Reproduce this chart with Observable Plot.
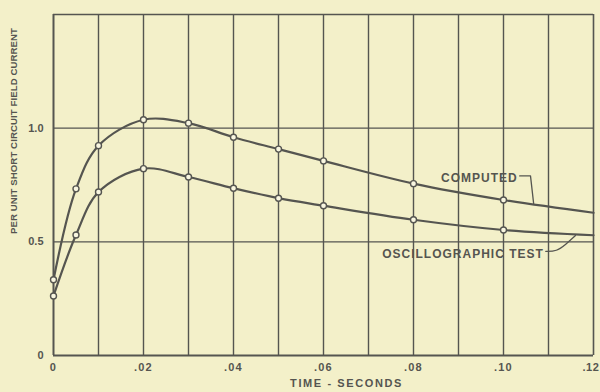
<!DOCTYPE html>
<html>
<head>
<meta charset="utf-8">
<script src="https://cdn.jsdelivr.net/npm/d3@7"></script>
<script src="https://cdn.jsdelivr.net/npm/@observablehq/plot@0.6"></script>
<style>
  html, body { margin: 0; padding: 0; background: #f3f0c9; }
  #chart { width: 600px; height: 392px; overflow: hidden; }
  svg { display: block; }
</style>
</head>
<body>
<div id="chart"></div>
<script>
// ---- data ----
const times        = [0, 0.005, 0.01, 0.02, 0.03, 0.04, 0.05, 0.06, 0.08, 0.10];
const computed     = [0.333, 0.733, 0.923, 1.037, 1.022, 0.960, 0.908, 0.856, 0.756, 0.684];
const oscillo      = [0.262, 0.530, 0.719, 0.822, 0.785, 0.736, 0.692, 0.659, 0.597, 0.552];
const endTime      = 0.12;
const computedEnd  = 0.628;
const oscilloEnd   = 0.529;
const xTicks       = [0, 0.02, 0.04, 0.06, 0.08, 0.10, 0.12];
const xTickLabels  = ["0", ".02", ".04", ".06", ".08", ".10", ".12"];
const xGrid        = [0.01, 0.02, 0.03, 0.04, 0.05, 0.06, 0.07, 0.08, 0.09, 0.10, 0.11];
const yTicks       = [0, 0.5, 1.0];
const yTickLabels  = ["0", "0.5", "1.0"];
const seriesNames  = ["COMPUTED", "OSCILLOGRAPHIC TEST"];
const xTitle       = "TIME - SECONDS";
const yTitle       = "PER UNIT SHORT CIRCUIT FIELD CURRENT";

// ---- build tables ----
const pts = (vals) => times.map((t, i) => ({t, v: vals[i]}));
const compPts = pts(computed);
const oscPts = pts(oscillo);
const compLine = [...compPts, {t: endTime, v: computedEnd}];
const oscLine = [...oscPts, {t: endTime, v: oscilloEnd}];

// annotation leaders (data coordinates)
const compLeader = [{t: 0.1036, v: 0.790}, {t: 0.1060, v: 0.790}, {t: 0.1067, v: 0.668}];
const oscLeader = [{t: 0.1094, v: 0.458}, {t: 0.1118, v: 0.458}, {t: 0.1138, v: 0.488}, {t: 0.1160, v: 0.528}];

const ink = "#555550";
const font = "'Liberation Sans', Arial, sans-serif";

const chart = Plot.plot({
  width: 600,
  height: 392,
  marginLeft: 53,
  marginRight: 7,
  marginTop: 14,
  marginBottom: 37,
  style: {background: "transparent", fontFamily: font, color: ink, overflow: "visible"},
  x: {domain: [0, 0.12]},
  y: {domain: [0, 1.5]},
  marks: [
    Plot.ruleX(xGrid, {stroke: ink, strokeWidth: 1.4}),
    Plot.ruleY([0.5, 1.0], {stroke: ink, strokeWidth: 1.4}),
    Plot.ruleY([1.5], {stroke: ink, strokeWidth: 1.6}),
    Plot.ruleX([0.12], {stroke: ink, strokeWidth: 1.6}),
    Plot.ruleX([0], {stroke: ink, strokeWidth: 2}),
    Plot.ruleY([0], {stroke: ink, strokeWidth: 2.2}),
    Plot.axisX(xTicks, {
      tickSize: 0, tickPadding: 0, dy: 8, fontSize: 11, fontWeight: "bold", fill: ink,
      tickFormat: (d) => xTickLabels[xTicks.indexOf(d)], label: null,
      textAnchor: "middle", className: "xticks"
    }),
    Plot.axisY(yTicks, {
      tickSize: 0, tickPadding: 10, fontSize: 11, fontWeight: "bold", fill: ink,
      tickFormat: (d) => yTickLabels[yTicks.indexOf(d)], label: null
    }),
    Plot.line(compLine, {x: "t", y: "v", curve: "catmull-rom", stroke: ink, strokeWidth: 2.2}),
    Plot.line(oscLine, {x: "t", y: "v", curve: "catmull-rom", stroke: ink, strokeWidth: 2.2}),
    Plot.dot(compPts, {x: "t", y: "v", r: 3, fill: "#f8f6e0", stroke: ink, strokeWidth: 1.4}),
    Plot.dot(oscPts, {x: "t", y: "v", r: 3, fill: "#f8f6e0", stroke: ink, strokeWidth: 1.4}),
    Plot.line(compLeader, {x: "t", y: "v", stroke: ink, strokeWidth: 1.3}),
    Plot.line(oscLeader, {x: "t", y: "v", curve: "basis", stroke: ink, strokeWidth: 1.3}),
    Plot.text([seriesNames[0]], {
      x: compLeader[0].t, y: compLeader[0].v, textAnchor: "end", dx: -2, dy: 2,
      fontSize: 12, fontWeight: "bold", fill: ink, fontFamily: font, className: "anno"
    }),
    Plot.text([seriesNames[1]], {
      x: oscLeader[0].t, y: oscLeader[0].v, textAnchor: "end", dx: -2, dy: 3,
      fontSize: 12, fontWeight: "bold", fill: ink, fontFamily: font, className: "anno"
    }),
    Plot.text([xTitle], {
      frameAnchor: "bottom", dy: 31, dx: 23, fontSize: 11, fontWeight: "bold", fill: ink, fontFamily: font,
      className: "xtitle"
    })
  ]
});
document.getElementById("chart").append(chart);
const svg = d3.select(chart);
svg.selectAll(".anno text").style("letter-spacing", "1px");
svg.selectAll(".xtitle text").style("letter-spacing", "1.6px");
svg.selectAll(".xticks text").style("letter-spacing", "1.2px");
// keep the last x tick label inside the picture (right-aligned at the edge like the reference)
const xTickTexts = svg.selectAll(".xticks text").nodes();
if (xTickTexts.length) {
  const last = d3.select(xTickTexts[xTickTexts.length - 1]);
  last.attr("text-anchor", "end").attr("dx", 6).style("letter-spacing", "0.6px");
}
svg.append("text")
  .attr("transform", "translate(17,131) rotate(-90)")
  .attr("text-anchor", "middle")
  .attr("font-family", font)
  .attr("font-size", 9.6)
  .attr("font-weight", "bold")
  .attr("fill", ink)
  .style("letter-spacing", "0.1px")
  .text(yTitle);
</script>
</body>
</html>
